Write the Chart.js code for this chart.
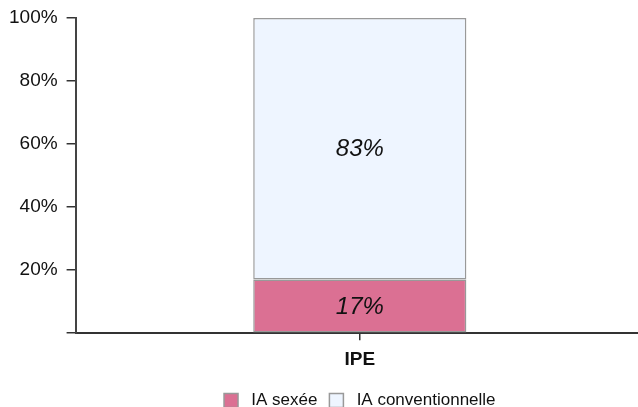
<!DOCTYPE html>
<html>
<head>
<meta charset="utf-8">
<script src="https://cdn.jsdelivr.net/npm/chart.js@4/dist/chart.umd.min.js"></script>
<style>
  html, body { margin: 0; padding: 0; background: #fff; }
  #wrap { width: 638px; height: 407px; overflow: hidden; }
</style>
</head>
<body>
<div id="wrap"><canvas id="chart" width="644" height="407"></canvas></div>
<script>
const categories = ["IPE"];
const seriesNames = ["IA sexée", "IA conventionnelle"];
const sexedValues = [17];
const conventionalValues = [83];
const yTicks = [0, 20, 40, 60, 80, 100];

// Labels written inside each segment
const segmentLabels = {
    id: "segmentLabels",
    afterDatasetsDraw(chart) {
        const ctx = chart.ctx;
        ctx.save();
        ctx.font = "italic 24px 'Liberation Sans', Arial, sans-serif";
        ctx.fillStyle = "#111";
        ctx.textAlign = "center";
        ctx.textBaseline = "middle";
        chart.data.datasets.forEach((ds, i) => {
            chart.getDatasetMeta(i).data.forEach((bar, j) => {
                const mid = (bar.y + bar.base) / 2;
                ctx.fillText(ds.data[j] + "%", bar.x, mid + 1);
            });
        });
        ctx.restore();
    }
};

new Chart(document.getElementById("chart").getContext("2d"), {
    type: "bar",
    data: {
        labels: categories,
        datasets: [{
            label: seriesNames[0],
            data: sexedValues,
            backgroundColor: "#db7093",
            borderColor: "#999",
            borderWidth: 1.5,
            borderSkipped: false
        }, {
            label: seriesNames[1],
            data: conventionalValues,
            backgroundColor: "#eef5ff",
            borderColor: "#999",
            borderWidth: 1.5,
            borderSkipped: false
        }]
    },
    options: {
        responsive: false,
        maintainAspectRatio: false,
        animation: false,
        layout: { padding: { top: 0, right: 0, left: 0, bottom: -12 } },
        datasets: { bar: { categoryPercentage: 1, barPercentage: 0.375 } },
        scales: {
            x: {
                stacked: true,
                afterFit(axis) { axis.height += 1; },
                grid: { drawOnChartArea: false, offset: false, tickLength: 7, color: "#333", lineWidth: 1.5 },
                border: { color: "#333", width: 2 },
                ticks: { color: "#111", font: { family: "'Liberation Sans', Arial, sans-serif", size: 19, weight: "bold" }, padding: 8 }
            },
            y: {
                stacked: true,
                min: yTicks[0],
                max: yTicks[yTicks.length - 1],
                afterBuildTicks(axis) { axis.ticks = yTicks.map(v => ({ value: v })); },
                afterFit(axis) { axis.paddingTop = 18; },
                grid: { drawOnChartArea: false, tickLength: 9, color: "#333", lineWidth: 1.5 },
                border: { color: "#444", width: 2 },
                ticks: {
                    color: "#111",
                    padding: 9,
                    font: { family: "'Liberation Sans', Arial, sans-serif", size: 19 },
                    callback: v => v === 0 ? "" : v + "%"
                }
            }
        },
        plugins: {
            tooltip: { enabled: false },
            legend: {
                position: "bottom",
                fullSize: false,
                labels: {
                    boxWidth: 14,
                    boxHeight: 14,
                    padding: 12,
                    color: "#111",
                    font: { family: "'Liberation Sans', Arial, sans-serif", size: 17 },
                    generateLabels(chart) {
                        return Chart.defaults.plugins.legend.labels.generateLabels(chart)
                            .map(item => Object.assign(item, { text: " " + item.text }));
                    }
                }
            }
        }
    },
    plugins: [segmentLabels]
});
</script>
</body>
</html>
